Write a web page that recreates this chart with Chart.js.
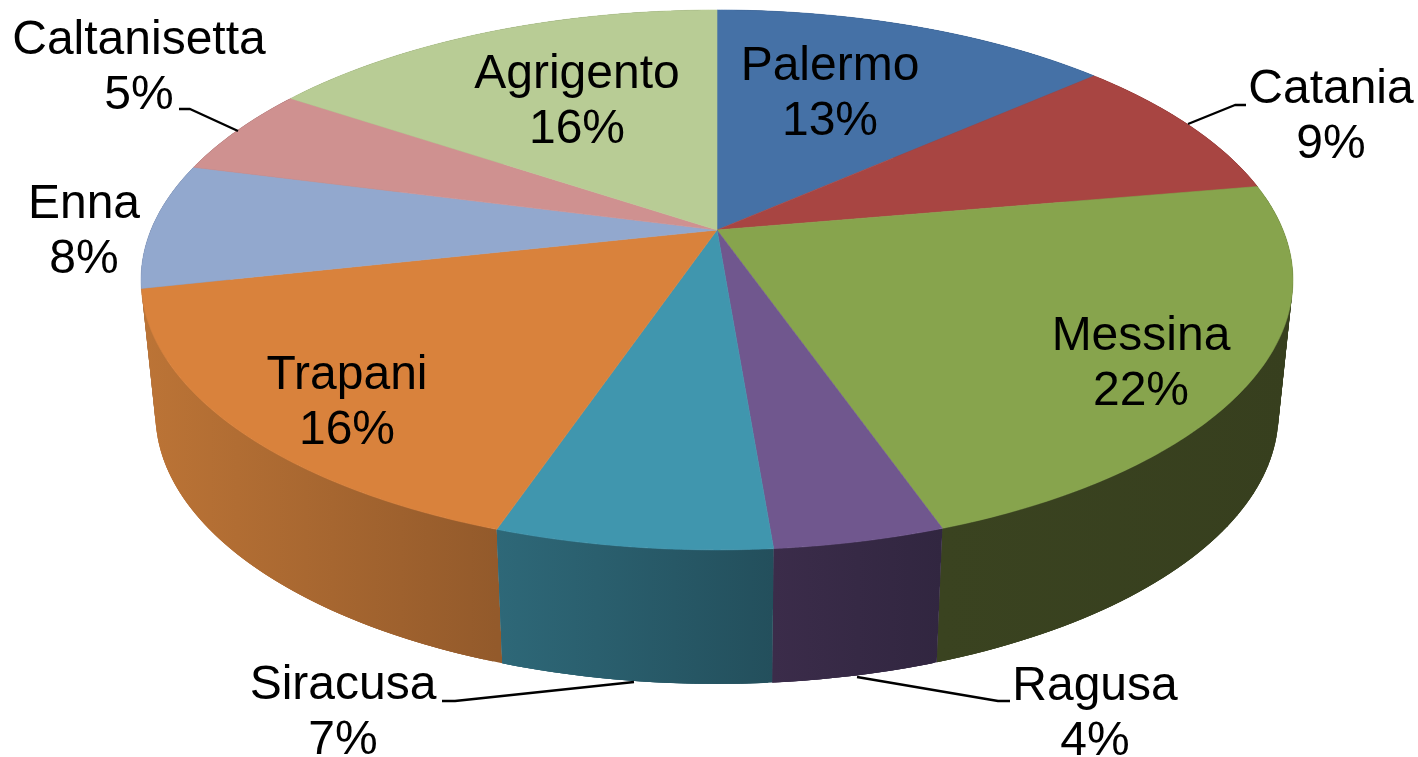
<!DOCTYPE html>
<html>
<head>
<meta charset="utf-8">
<style>html,body{margin:0;padding:0;background:#fff;overflow:hidden}canvas{display:block}</style>
<script src="https://cdn.jsdelivr.net/npm/chart.js@4/dist/chart.umd.min.js"></script>
</head>
<body>
<canvas id="c" width="1418" height="757"></canvas>
<script>
const categories = ["Palermo","Catania","Messina","Ragusa","Siracusa","Trapani","Enna","Caltanisetta","Agrigento"];
const shares = [13.45,8.8,22.42,4.03,6.5,16.35,7.5,5.35,15.6];
const percentLabels = ["13%","9%","22%","4%","7%","16%","8%","5%","16%"];
const topColors = ["#4571A6","#A84542","#87A44D","#70578E","#4096AE","#D9823C","#92A8CE","#CF9190","#B8CC95"];
const wallStart = ["#2F4D72","#74302E","#3A4320","#3B2C4A","#2E6878","#BC7436","#64738D","#8E6463","#7E8C66"];
const wallEnd = ["#2F4D72","#74302E","#373F1E","#312640","#234F5C","#935A2B","#64738D","#8E6463","#7E8C66"];
// Painting order of the walls: hidden back slices first, visible front slices last
const wallOrder = [0,1,8,7,6,2,5,3,4];

// Placement of the text, separate from the data: centre x and first baseline
const labelPlacement = [[830,80],[1331,103],[1141,350],[1095,700],[343,699],[347,389],[84,218],[139,54],[577,88]];
// Leader lines for the outside labels, by slice index
const leaders = {1:[[1188,124],[1235,105],[1246,105]],3:[[857,677],[998,701],[1010,701]],4:[[634,682],[455,701],[442,701]],7:[[238,131],[190,109],[179,109]]};

// Perspective of the disc, relative to the library's arc geometry
const persp = {k:0.185, sx:566/230, sy:260.7/230, shrink:0.975, depth:134, lineGap:55, font:'48px "Liberation Sans", Arial, sans-serif'};

function rimPoint(arc, a, low){
  const u = Math.cos(a), v = Math.sin(a), w = 1 - persp.k*v;
  const r = arc.outerRadius;
  let dx = r*persp.sx*u/w, dy = r*persp.sy*v/w;
  if(low){ dx *= persp.shrink; dy += persp.depth; }
  return [arc.x+dx, arc.y+dy];
}

const disc3d = {
  id:'disc3d',
  beforeDatasetDraw(chart){
    const ctx = chart.ctx, arcs = chart.getDatasetMeta(0).data;
    ctx.save();
    // walls: overlapping strips so that no seam shows
    wallOrder.forEach(i=>{
      const arc = arcs[i];
      const n = 70, a0 = arc.startAngle, a1 = arc.endAngle;
      let minX = Infinity, maxX = -Infinity;
      for(let s=0;s<=n;s++){const p=rimPoint(arc,a0+(a1-a0)*s/n,false);minX=Math.min(minX,p[0]);maxX=Math.max(maxX,p[0]);}
      const g = ctx.createLinearGradient(minX,0,maxX,0);
      g.addColorStop(0,wallStart[i]); g.addColorStop(1,wallEnd[i]);
      ctx.fillStyle = g;
      for(let s=0;s<n;s++){
        const b0=a0+(a1-a0)*s/n, b1=a0+(a1-a0)*Math.min(s+3,n)/n;
        const q=[rimPoint(arc,b0,false),rimPoint(arc,b1,false),rimPoint(arc,b1,true),rimPoint(arc,b0,true)];
        ctx.beginPath(); ctx.moveTo(q[0][0],q[0][1]);
        for(let j=1;j<4;j++) ctx.lineTo(q[j][0],q[j][1]);
        ctx.closePath(); ctx.fill();
      }
    });
    // top surface
    arcs.forEach((arc,i)=>{
      const n = 120, a0 = arc.startAngle, a1 = arc.endAngle;
      ctx.beginPath(); ctx.moveTo(arc.x,arc.y);
      for(let s=0;s<=n;s++){const p=rimPoint(arc,a0+(a1-a0)*s/n,false);ctx.lineTo(p[0],p[1]);}
      ctx.closePath();
      ctx.fillStyle = topColors[i]; ctx.strokeStyle = topColors[i]; ctx.lineWidth = 0.6;
      ctx.fill(); ctx.stroke();
    });
    ctx.restore();
    return false;
  },
  afterDraw(chart){
    const ctx = chart.ctx;
    ctx.save();
    ctx.strokeStyle = '#000'; ctx.lineWidth = 2.4; ctx.lineJoin='round';
    Object.values(leaders).forEach(pts=>{
      ctx.beginPath(); ctx.moveTo(pts[0][0],pts[0][1]);
      pts.slice(1).forEach(p=>ctx.lineTo(p[0],p[1]));
      ctx.stroke();
    });
    ctx.fillStyle = '#000'; ctx.font = persp.font; ctx.textAlign='center'; ctx.textBaseline='alphabetic';
    categories.forEach((name,i)=>{
      const [x,y] = labelPlacement[i];
      ctx.fillText(name,x,y);
      ctx.fillText(percentLabels[i],x,y+persp.lineGap);
    });
    ctx.restore();
  }
};

new Chart(document.getElementById('c'),{
  type:'pie',
  data:{labels:categories,datasets:[{data:shares,backgroundColor:topColors,borderWidth:0}]},
  options:{
    responsive:false,animation:false,events:[],
    layout:{padding:{left:16,bottom:297,top:0,right:0}},
    plugins:{legend:{display:false},tooltip:{enabled:false}}
  },
  plugins:[disc3d]
});
</script>
</body>
</html>
